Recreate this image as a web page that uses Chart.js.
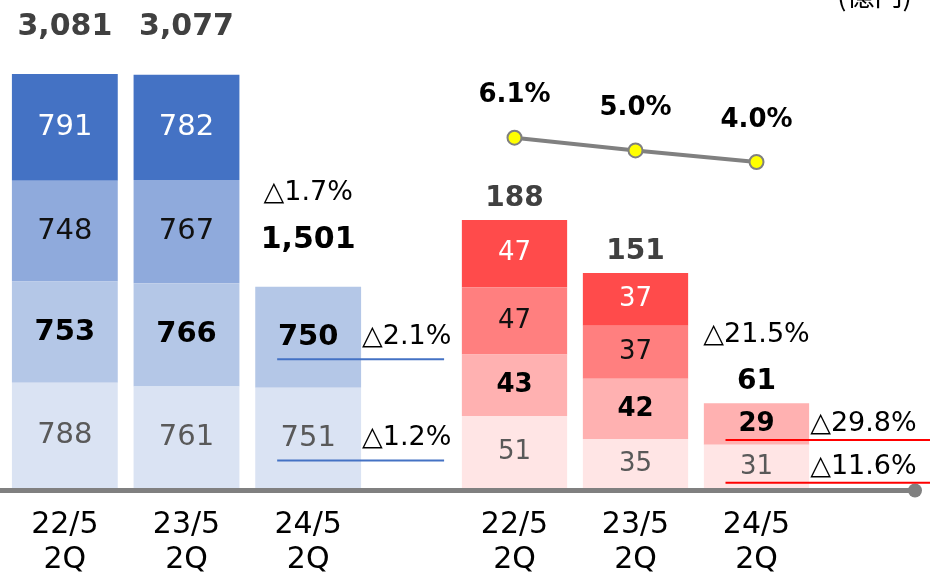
<!DOCTYPE html>
<html>
<head>
<meta charset="utf-8">
<script src="https://cdn.jsdelivr.net/npm/chart.js@4"></script>
<style>
  body { margin: 0; background: #fff; }
  .wrap { display: flex; width: 930px; height: 575px; }
  canvas { display: block; }
</style>
</head>
<body>
<div class="wrap">
  <canvas id="salesChart" width="454" height="575"></canvas>
  <canvas id="profitChart" width="476" height="575"></canvas>
</div>
<script>
// periods (x axis)
const periods = [['22/5', '2Q'], ['23/5', '2Q'], ['24/5', '2Q']];

// sales, 億円 - stacked bottom to top
const salesQ1 = [788, 761, 751];
const salesQ2 = [753, 766, 750];
const salesQ3 = [748, 767, null];
const salesQ4 = [791, 782, null];
const salesTotals = [3081, 3077, 1501];
const salesTotalChange = '△1.7%';
const salesQChange = ['△1.2%', '△2.1%'];

// operating profit, 億円 - stacked bottom to top
const profitQ1 = [51, 35, 31];
const profitQ2 = [43, 42, 29];
const profitQ3 = [47, 37, null];
const profitQ4 = [47, 37, null];
const profitTotals = [188, 151, 61];
const profitTotalChange = '△21.5%';
const profitQChange = ['△11.6%', '△29.8%'];

// profit margin (%)
const margin = [6.1, 5.0, 4.0];

const unitLabel = '(億円)';

const FONT = "'DejaVu Sans', Verdana, sans-serif";
const segStyles = [
    { color: '#595959', weight: 'normal' },
    { color: '#000000', weight: 'bold' },
    { color: '#111111', weight: 'normal' },
    { color: '#ffffff', weight: 'normal' }
];
const totalColors = ['#404040', '#404040', '#000000'];

function drawText(ctx, text, x, y, size, weight, color, align) {
    ctx.font = `${weight} ${size}px ${FONT}`;
    ctx.fillStyle = color;
    ctx.textAlign = align || 'center';
    ctx.textBaseline = 'middle';
    ctx.fillText(text, x, y);
    return ctx.measureText(text).width;
}

// labels, change notes and the axis bar
const decorPlugin = {
    id: 'decor',
    afterDatasetsDraw(chart, args, o) {
        const ctx = chart.ctx;
        const yScale = chart.scales.y;
        const area = chart.chartArea;
        ctx.save();

        // axis bar
        const axisY = area.bottom + 1.5;
        ctx.strokeStyle = '#808080';
        ctx.lineWidth = 5;
        ctx.beginPath();
        ctx.moveTo(0, axisY);
        ctx.lineTo(o.axisEnd, axisY);
        ctx.stroke();
        if (o.axisDot) {
            ctx.fillStyle = '#808080';
            ctx.beginPath();
            ctx.arc(o.axisEnd, axisY, 7, 0, Math.PI * 2);
            ctx.fill();
        }

        // segment values
        const bars = chart.data.datasets.filter(d => d.type !== 'line');
        bars.forEach((ds, level) => {
            const meta = chart.getDatasetMeta(chart.data.datasets.indexOf(ds));
            meta.data.forEach((el, j) => {
                const v = ds.data[j];
                if (v == null) return;
                const cy = (el.y + el.base) / 2;
                const st = segStyles[level];
                drawText(ctx, String(v), el.x, cy, o.segSize, st.weight, st.color);
            });
        });

        // totals above the bars
        const first = chart.getDatasetMeta(0).data;
        o.totals.forEach((t, j) => {
            const top = yScale.getPixelForValue(
                bars.reduce((s, ds) => s + (ds.data[j] || 0), 0));
            const ty = top - o.totalOffset;
            drawText(ctx, t.toLocaleString('en-US'), first[j].x, ty, o.totalSize, 'bold', totalColors[j]);
            if (j === o.totals.length - 1) {
                drawText(ctx, o.totalChange, first[j].x, ty - 47, 27, 'normal', '#000');
            }
        });

        // quarter change notes on the latest bar
        const last = o.totals.length - 1;
        o.qChange.forEach((txt, level) => {
            const el = chart.getDatasetMeta(chart.data.datasets.indexOf(bars[level])).data[last];
            const cy = (el.y + el.base) / 2;
            const right = el.x + el.width / 2;
            drawText(ctx, txt, right + 1, cy, 27, 'normal', '#000', 'left');
            ctx.strokeStyle = o.lineColor;
            ctx.lineWidth = 2;
            ctx.beginPath();
            ctx.moveTo(el.x - 31, cy + o.ulOffset);
            ctx.lineTo(right + o.ulExtend, cy + o.ulOffset);
            ctx.stroke();
        });

        // margin labels
        const lineIdx = chart.data.datasets.findIndex(d => d.type === 'line');
        if (lineIdx >= 0) {
            chart.getDatasetMeta(lineIdx).data.forEach((el, j) => {
                drawText(ctx, margin[j].toFixed(1) + '%', el.x, el.y - 42, 26, 'bold', '#000');
            });
        }

        if (o.unit) {
            ctx.font = `28px 'Noto Sans CJK JP', sans-serif`;
            ctx.fillStyle = '#000';
            ctx.textAlign = 'right';
            ctx.textBaseline = 'alphabetic';
            ctx.fillText(o.unit, chart.width - 18, 6);
        }
        ctx.restore();
    }
};

function baseOptions(yMax, padding, decor) {
    return {
        responsive: false,
        devicePixelRatio: 1,
        animation: false,
        layout: { padding: padding, autoPadding: false },
        plugins: {
            legend: { display: false },
            tooltip: { enabled: false },
            decor: decor
        },
        scales: {
            x: {
                stacked: true,
                grid: { display: false },
                border: { display: false },
                ticks: {
                    color: '#000',
                    padding: 11,
                    font: { family: FONT, size: 30, lineHeight: 1.17 }
                },
                afterFit: s => { s.height = 86; }
            },
            y: { stacked: true, display: false, min: 0, max: yMax }
        }
    };
}

function barSet(values, color) {
    return {
        data: values,
        backgroundColor: color,
        borderWidth: 0,
        categoryPercentage: 1,
        barPercentage: 0.87
    };
}

const blues = ['#DAE3F3', '#B4C7E7', '#8FAADC', '#4472C4'];
const reds = ['#FFE5E5', '#FFB1B1', '#FF7F7F', '#FF4B4B'];

new Chart(document.getElementById('salesChart'), {
    type: 'bar',
    data: {
        labels: periods,
        datasets: [salesQ1, salesQ2, salesQ3, salesQ4].map((v, i) => barSet(v, blues[i]))
    },
    options: baseOptions(3630, { left: 4, right: 85, top: 0, bottom: 0 }, {
        segSize: 29, totals: salesTotals, totalSize: 30, totalOffset: 47,
        totalChange: salesTotalChange, qChange: salesQChange,
        lineColor: '#4472C4', ulOffset: 22, ulExtend: 83,
        axisEnd: 454, axisDot: false
    }),
    plugins: [decorPlugin]
});

const profitOptions = baseOptions(341.7, { left: 0, right: 113, top: 0, bottom: 0 }, {
    segSize: 26, totals: profitTotals, totalSize: 28, totalOffset: 21,
    totalChange: profitTotalChange, qChange: profitQChange,
    lineColor: '#FF0000', ulOffset: 16, ulExtend: 122,
    axisEnd: 461, axisDot: true, unit: unitLabel
});
profitOptions.scales.yp = { display: false, min: -24.26, max: 18 };

new Chart(document.getElementById('profitChart'), {
    type: 'bar',
    data: {
        labels: periods,
        datasets: [profitQ1, profitQ2, profitQ3, profitQ4].map((v, i) => barSet(v, reds[i])).concat([{
            type: 'line',
            data: margin,
            yAxisID: 'yp',
            borderColor: '#808080',
            borderWidth: 4,
            pointRadius: 7,
            pointBackgroundColor: '#FFFF00',
            pointBorderColor: '#808080',
            pointBorderWidth: 2,
            order: -1
        }])
    },
    options: profitOptions,
    plugins: [decorPlugin]
});
</script>
</body>
</html>
